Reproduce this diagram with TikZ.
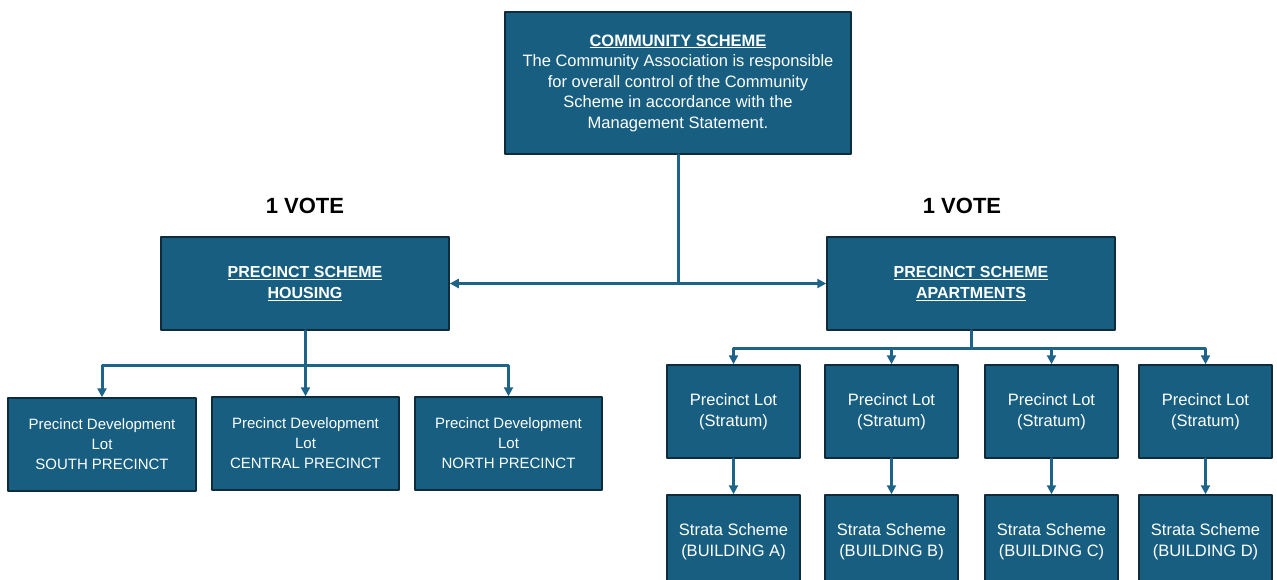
\documentclass[tikz,border=0pt]{standalone}
\usepackage{fontspec}
\setmainfont{Liberation Sans}
\usetikzlibrary{arrows.meta}
\definecolor{boxblue}{HTML}{175E80}
\definecolor{boxline}{HTML}{0F2C3C}
\definecolor{linkblue}{HTML}{1D6488}
\begin{document}
\begin{tikzpicture}[x=1pt,y=-1pt,>={Triangle[length=9pt,width=9pt]},line cap=round,line join=round,
box/.style={draw=boxline,line width=1.5pt,fill=boxblue,text=white,align=center,inner sep=0pt,font=\fontsize{16.5}{20.5}\selectfont},
devbox/.style={box,minimum width=187pt,minimum height=93pt,font=\fontsize{15}{20}\selectfont},
headbox/.style={box,minimum width=288pt,minimum height=93pt,font=\fontsize{16}{21}\selectfont\bfseries},
link/.style={draw=linkblue,line width=3pt},
vote/.style={font=\fontsize{22}{26}\selectfont\bfseries}]
\useasboundingbox (0,0) rectangle (1277,580);
\clip (0,0) rectangle (1277,580);
\path (678,83)node[box,minimum width=346pt,minimum height=142pt](top){\underline{\textbf{COMMUNITY SCHEME}}\\The Community Association is responsible\\for overall control of the Community\\Scheme in accordance with the\\Management Statement.}
(305,283.5)node[headbox](housing){\underline{PRECINCT SCHEME}\\\underline{HOUSING}}
(971,283.5)node[headbox](apart){\underline{PRECINCT SCHEME}\\\underline{APARTMENTS}}
(305,206)node[vote](votel){1 VOTE}
(962,206)node[vote](voter){1 VOTE}
(102,444.5)node[devbox,minimum width=188pt](south){Precinct Development\\Lot\\SOUTH PRECINCT}
(305.5,443.5)node[devbox](central){Precinct Development\\Lot\\CENTRAL PRECINCT}
(508.5,443.5)node[devbox](north){Precinct Development\\Lot\\NORTH PRECINCT};
% precinct lots and strata schemes
\foreach \n/\x/\b in {A/733.5/A,B/891.5/B,C/1051.5/C,D/1205.5/D}{
\path (\x,411.5)node[box,minimum width=133pt,minimum height=93pt](lot\n){Precinct Lot\\(Stratum)}
(\x,541.5)node[box,minimum width=133pt,minimum height=93pt](strata\n){Strata Scheme\\(BUILDING \b)};
}
\coordinate (hub) at (top.south|-housing.east);
\coordinate (hbar) at (305,365);
\coordinate (abar) at (971,348);
\draw[link] (top.south)--(hub);
\draw[link,<->] (housing.east)--(apart.west);
\draw[link] (housing.south)--(hbar);
\foreach \n in {south,central,north} \draw[link,->] (hbar)-|(\n.north);
\draw[link] (apart.south)--(abar);
\foreach \n in {A,B,C,D}{
\draw[link,->] (abar)-|(lot\n.north);
\draw[link,->] (lot\n.south)--(strata\n.north);
}
\end{tikzpicture}
\end{document}
